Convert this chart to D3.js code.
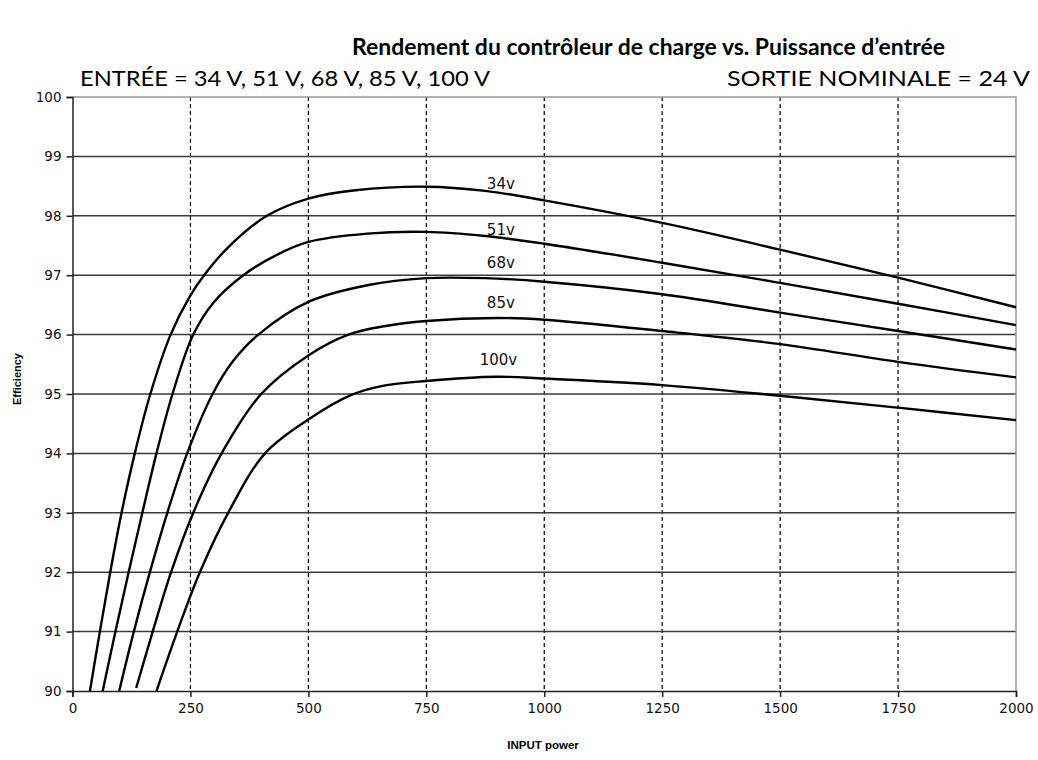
<!DOCTYPE html>
<html>
<head>
<meta charset="utf-8">
<script src="https://cdn.jsdelivr.net/npm/d3@7"></script>
<style>
  html, body { margin: 0; padding: 0; background: #fff; }
  svg { display: block; }
</style>
</head>
<body>
<svg id="chart" width="1038" height="760"></svg>
<script>
// Efficiency curves, [input power (W), efficiency (%)], one per input voltage
const series34 = [[37,90],[58,91],[80,92],[104,93],[132,94],[165,95],[208,96],[250,96.66],[279,97],[330,97.47],[412,98],[500,98.29],[600,98.43],[750,98.49],[875,98.42],[1000,98.26],[1250,97.88],[1500,97.43],[1750,96.96],[2000,96.46]];
const series51 = [[64,90],[91,91],[119,92],[148,93],[178,94],[212,95],[256,96],[300,96.55],[362,97],[430,97.33],[500,97.56],[625,97.7],[750,97.73],[875,97.66],[1000,97.53],[1250,97.21],[1500,96.87],[1750,96.52],[2000,96.16]];
const series68 = [[99,90],[130,91],[164,92],[201,93],[243,94],[297,95],[340,95.55],[394,96],[500,96.55],[625,96.83],[750,96.95],[875,96.95],[1000,96.89],[1250,96.68],[1500,96.37],[1750,96.06],[2000,95.75]];
const series85 = [[135,90.05],[170,91],[209,92],[256,93],[316,94],[400,95],[500,95.65],[585,96],[660,96.14],[750,96.23],[900,96.28],[1000,96.25],[1250,96.06],[1500,95.84],[1750,95.54],[2000,95.28]];
const series100 = [[178,90],[222,91],[270,92],[330,93],[408,94],[500,94.57],[590,94.98],[660,95.14],[750,95.22],[900,95.29],[1000,95.26],[1250,95.15],[1500,94.97],[1750,94.77],[2000,94.56]];

const seriesNames = ["34v", "51v", "68v", "85v", "100v"];
const seriesData = [series34, series51, series68, series85, series100];
// where each curve's name sits: [input power, efficiency at text baseline]
const labelAnchors = [[908, 98.45], [908, 97.68], [908, 97.12], [908, 96.45], [903, 95.49]];

const xTicks = [0, 250, 500, 750, 1000, 1250, 1500, 1750, 2000];
const yTicks = [90, 91, 92, 93, 94, 95, 96, 97, 98, 99, 100];

const titleText = "Rendement du contrôleur de charge vs. Puissance d’entrée";
const inputText = "ENTRÉE = 34 V, 51 V, 68 V, 85 V, 100 V";
const outputText = "SORTIE NOMINALE = 24 V";
const xTitle = "INPUT power";
const yTitle = "Efficiency";

const svg = d3.select("#chart");
const plotLeft = 72.5, plotTop = 97, plotRight = 1016, plotBottom = 691;

const x = d3.scaleLinear().domain([0, 2000]).range([plotLeft, plotRight]);
const y = d3.scaleLinear().domain([90, 100]).range([plotBottom, plotTop]);

// fit a text element to a given width by adjusting its font size
function fitWidth(sel, target) {
  const fs = parseFloat(sel.attr("font-size"));
  const w = sel.node().getComputedTextLength();
  sel.attr("font-size", (fs * target / w).toFixed(2));
}

// headings
const title = svg.append("text")
  .attr("x", 352).attr("y", 55)
  .attr("font-family", "Lato, 'Open Sans', sans-serif")
  .attr("font-weight", "bold").attr("font-size", 20)
  .attr("fill", "#000").text(titleText);
fitWidth(title, 593);

// subtitles: fixed size, squeezed to their measured spans
svg.append("text")
  .attr("x", 80).attr("y", 86)
  .attr("font-family", "Lato, 'Open Sans', sans-serif")
  .attr("font-size", 21).attr("fill", "#000")
  .attr("textLength", 410).attr("lengthAdjust", "spacingAndGlyphs")
  .text(inputText);

svg.append("text")
  .attr("x", 727).attr("y", 86)
  .attr("font-family", "Lato, 'Open Sans', sans-serif")
  .attr("font-size", 21).attr("fill", "#000")
  .attr("textLength", 303).attr("lengthAdjust", "spacingAndGlyphs")
  .text(outputText);

// vertical dashed grid
svg.append("g").selectAll("line")
  .data(xTicks.filter(d => d > 0 && d < 2000))
  .join("line")
  .attr("x1", d => x(d)).attr("x2", d => x(d))
  .attr("y1", plotTop).attr("y2", plotBottom)
  .attr("stroke", "#000").attr("stroke-width", 1.2)
  .attr("stroke-dasharray", "4,3");

// horizontal grid
svg.append("g").selectAll("line")
  .data(yTicks.filter(d => d > 90 && d < 100))
  .join("line")
  .attr("x1", plotLeft).attr("x2", plotRight)
  .attr("y1", d => y(d)).attr("y2", d => y(d))
  .attr("stroke", "#3a3a3a").attr("stroke-width", 1.5);

// plot frame: top and right edges
svg.append("path")
  .attr("d", `M${plotLeft},${plotTop}H${plotRight}V${plotBottom}`)
  .attr("fill", "none").attr("stroke", "#999").attr("stroke-width", 1.5);

// axes
const tickFont = "'DejaVu Sans', Verdana, sans-serif";
const xAxis = svg.append("g")
  .attr("transform", `translate(0,${plotBottom})`)
  .call(d3.axisBottom(x).tickValues(xTicks).tickSize(6).tickPadding(6).tickFormat(d3.format("d")));
const yAxis = svg.append("g")
  .attr("transform", `translate(${plotLeft},0)`)
  .call(d3.axisLeft(y).tickValues(yTicks).tickSize(6).tickPadding(5).tickFormat(d3.format("d")));
[xAxis, yAxis].forEach(g => {
  g.select(".domain").attr("stroke", "#222").attr("stroke-width", 1.5);
  g.selectAll(".tick line").attr("stroke", "#222").attr("stroke-width", 1.5);
  g.selectAll(".tick text").attr("font-family", tickFont).attr("font-size", 13.5).attr("fill", "#111");
});

// curves
const line = d3.line()
  .x(d => x(d[0])).y(d => y(d[1]))
  .curve(d3.curveCatmullRom.alpha(0.5));
svg.append("g").selectAll("path")
  .data(seriesData)
  .join("path")
  .attr("d", line)
  .attr("fill", "none").attr("stroke", "#000")
  .attr("stroke-width", 2.4).attr("stroke-linejoin", "round");

// curve names
svg.append("g").selectAll("text")
  .data(seriesNames)
  .join("text")
  .attr("x", (d, i) => x(labelAnchors[i][0]))
  .attr("y", (d, i) => y(labelAnchors[i][1]))
  .attr("text-anchor", "middle")
  .attr("font-family", tickFont).attr("font-size", 15).attr("fill", "#111")
  .text(d => d);

// axis titles
svg.append("text")
  .attr("x", 543).attr("y", 749)
  .attr("text-anchor", "middle")
  .attr("font-family", "'Liberation Sans', Arial, sans-serif")
  .attr("font-weight", "bold").attr("font-size", 11.5).attr("fill", "#000")
  .text(xTitle);

svg.append("text")
  .attr("transform", `translate(21,379) rotate(-90)`)
  .attr("text-anchor", "middle")
  .attr("font-family", "'Liberation Sans', Arial, sans-serif")
  .attr("font-weight", "bold").attr("font-size", 11).attr("fill", "#000")
  .text(yTitle);
</script>
</body>
</html>
